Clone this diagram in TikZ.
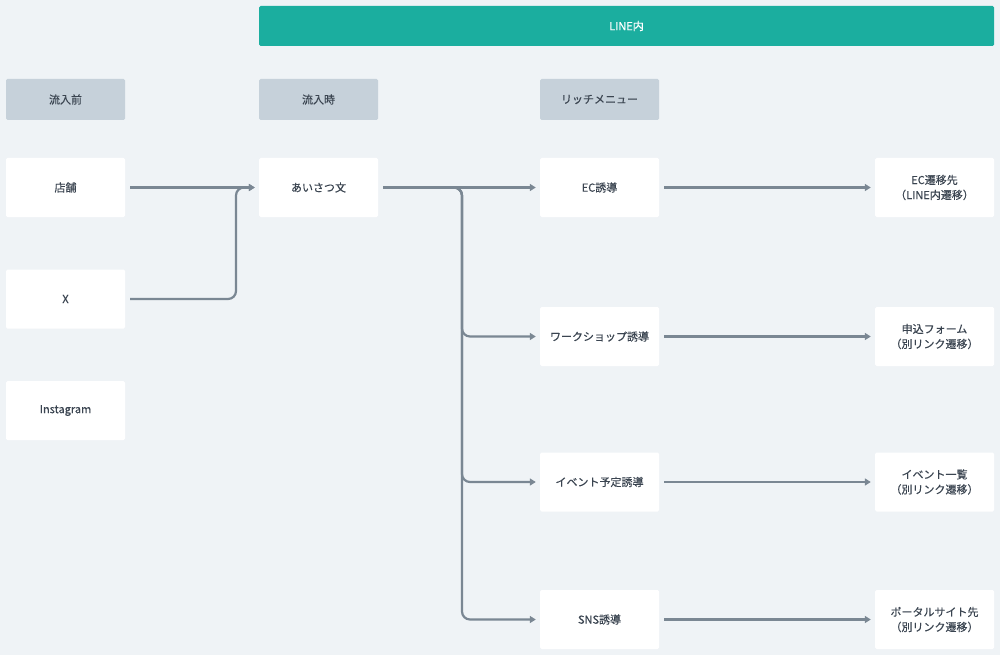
\documentclass[tikz,border=0pt]{standalone}
\usepackage{fontspec}
\setmainfont{Noto Sans CJK JP}[FakeBold=0.3]
\usetikzlibrary{arrows.meta}
\definecolor{bg}{HTML}{EFF3F6}
\definecolor{teal}{HTML}{1BAE9F}
\definecolor{hdr}{HTML}{C6D1DA}
\definecolor{ln}{HTML}{7A8793}
\definecolor{tx}{HTML}{3A4450}
\tikzset{
  box/.style={fill=white, minimum width=119pt, minimum height=59pt, inner sep=0pt, text=tx, align=center, font=\fontsize{11pt}{15pt}\selectfont, rounded corners=1.5pt},
  hbox/.style={box, fill=hdr, minimum height=41pt},
  conn/.style={draw=ln, line width=2.2pt, rounded corners=8pt, -{Triangle[length=6pt,width=7pt]}},
}
\begin{document}
\begin{tikzpicture}[x=1pt,y=-1pt]
\fill[bg] (0,0) rectangle (1000,655);
\useasboundingbox (0,0) rectangle (1000,655);
\node[fill=teal, minimum width=735pt, minimum height=40pt, inner sep=0pt, text=white, font=\fontsize{11pt}{14pt}\selectfont, rounded corners=1.5pt] (line) at (626.5,26) {LINE内};
\node[hbox] (h1) at (65.5,99.5) {流入前};
\node[hbox] (h2) at (318.5,99.5) {流入時};
\node[hbox] (h3) at (599.5,99.5) {リッチメニュー};
\node[box] (shop) at (65.5,187.5) {店舗};
\node[box] (x) at (65.5,299) {X};
\node[box] (insta) at (65.5,410.5) {Instagram};
\node[box] (greet) at (318.5,187.5) {あいさつ文};
\node[box] (ec) at (599.5,187.5) {EC誘導};
\node[box] (ws) at (599.5,336.5) {ワークショップ誘導};
\node[box] (ev) at (599.5,482) {イベント予定誘導};
\node[box] (sns) at (599.5,619.5) {SNS誘導};
\node[box] (r1) at (934.5,187.5) {EC遷移先\\（LINE内遷移）};
\node[box] (r2) at (934.5,336.5) {申込フォーム\\（別リンク遷移）};
\node[box] (r3) at (934.5,482) {イベント一覧\\（別リンク遷移）};
\node[box] (r4) at (934.5,619.5) {ポータルサイト先\\（別リンク遷移）};
\draw[conn] ([xshift=5pt]shop.east) -- ([xshift=-4pt]greet.west);
\draw[conn] ([xshift=5pt]x.east) -- (236,299) -- (236,187.5) -- ([xshift=-4pt]greet.west);
\draw[conn] ([xshift=5pt]greet.east) -- ([xshift=-4pt]ec.west);
\draw[conn] ([xshift=5pt]greet.east) -- (462,187.5) -- (462,336.5) -- ([xshift=-4pt]ws.west);
\draw[conn] ([xshift=5pt]greet.east) -- (462,187.5) -- (462,482) -- ([xshift=-4pt]ev.west);
\draw[conn] ([xshift=5pt]greet.east) -- (462,187.5) -- (462,619.5) -- ([xshift=-4pt]sns.west);
\draw[conn] ([xshift=5pt]ec.east) -- ([xshift=-4pt]r1.west);
\draw[conn] ([xshift=5pt]ws.east) -- ([xshift=-4pt]r2.west);
\draw[conn] ([xshift=5pt]ev.east) -- ([xshift=-4pt]r3.west);
\draw[conn] ([xshift=5pt]sns.east) -- ([xshift=-4pt]r4.west);
\end{tikzpicture}
\end{document}
